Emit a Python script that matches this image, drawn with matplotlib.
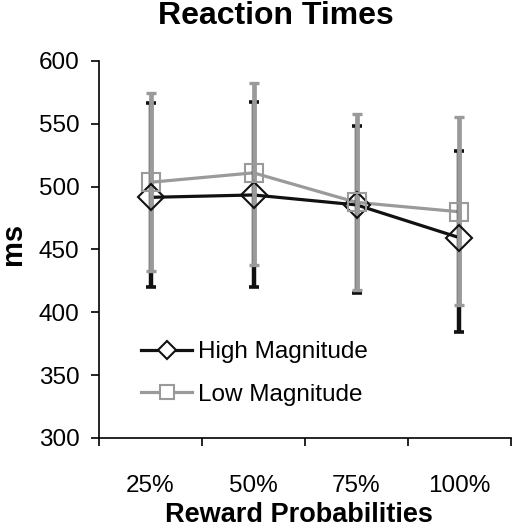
import matplotlib
matplotlib.use("Agg")
import matplotlib.pyplot as plt
import numpy as np

plt.rcParams['font.family'] = ['Liberation Sans', 'DejaVu Sans']

categories = ["25%", "50%", "75%", "100%"]
high_mean = [491.5, 493.4, 485.5, 459.4]
high_err_up = [75.3, 74.2, 62.8, 69.0]
high_err_down = [71.1, 73.0, 69.9, 74.8]
low_mean = [503.5, 511.0, 487.5, 480.0]
low_err_up = [70.8, 71.7, 70.3, 75.2]
low_err_down = [70.3, 73.3, 69.7, 74.2]
y_ticks = [300, 350, 400, 450, 500, 550, 600]

BLACK = "#111111"
GRAY = "#9a9a9a"

W, H = 521, 527
fig = plt.figure(figsize=(W / 100, H / 100), dpi=100)
ax = fig.add_axes([99 / W, 1 - 438 / H, (511 - 99) / W, (438 - 61) / H])

x = np.arange(len(categories))

# lines
ax.plot(x, high_mean, color=BLACK, lw=2.3, zorder=2, solid_capstyle='butt')
ax.plot(x, low_mean, color=GRAY, lw=2.3, zorder=2.5, solid_capstyle='butt')

# error bars
ax.errorbar(x, high_mean, yerr=[high_err_down, high_err_up], fmt='none',
            ecolor=BLACK, elinewidth=3.2, capsize=3.6, capthick=2.6, zorder=3)
ax.errorbar(x, low_mean, yerr=[low_err_down, low_err_up], fmt='none',
            ecolor=GRAY, elinewidth=3.4, capsize=3.8, capthick=2.4, zorder=4)

# markers
ax.plot(x, high_mean, linestyle='none', marker='D', markersize=13,
        markerfacecolor='none', markeredgecolor=BLACK, markeredgewidth=1.5, zorder=5)
ax.plot(x, low_mean, linestyle='none', marker='s', markersize=13,
        markerfacecolor='none', markeredgecolor=GRAY, markeredgewidth=1.5, zorder=5)

# legend handles
h1, = ax.plot([], [], color=BLACK, lw=2.3, marker='D', markersize=9,
              markerfacecolor='white', markeredgecolor=BLACK, markeredgewidth=1.5)
h2, = ax.plot([], [], color=GRAY, lw=2.3, marker='s', markersize=10,
              markerfacecolor='white', markeredgecolor=GRAY, markeredgewidth=1.5)
ax.legend([h1, h2], ["High Magnitude", "Low Magnitude"], loc='upper left',
          bbox_to_anchor=(141 / W, 1 - 341 / H), bbox_transform=fig.transFigure,
          frameon=False, fontsize=17.5, handlelength=2.1, handletextpad=0.25,
          labelspacing=0.85, borderpad=0, borderaxespad=0, numpoints=1)

ax.set_xlim(-0.5, len(categories) - 0.5)
ax.set_ylim(300, 600)
ax.set_yticks(y_ticks)
ax.set_yticklabels([str(v) for v in y_ticks], fontsize=17.5)

ax.set_xticks(np.arange(len(categories) + 1) - 0.5)
ax.set_xticklabels([])
ax.set_xticks(x, minor=True)
ax.set_xticklabels(categories, minor=True, fontsize=17.5)
ax.tick_params(axis='x', which='major', direction='out', length=6, width=1.2, color='black')
ax.tick_params(axis='x', which='minor', length=0, pad=27)
ax.tick_params(axis='y', direction='out', length=6, width=1.2, pad=8)

for s in ['top', 'right']:
    ax.spines[s].set_visible(False)
for s in ['left', 'bottom']:
    ax.spines[s].set_linewidth(1.2)
    ax.spines[s].set_color('black')

fig.text(276 / W, 1 - 16 / H, "Reaction Times", ha='center', va='center',
         fontsize=23, fontweight='bold')
fig.text(299 / W, 1 - 515 / H, "Reward Probabilities", ha='center', va='center',
         fontsize=19.5, fontweight='bold')
fig.text(13 / W, 1 - 244 / H, "ms", ha='center', va='center', rotation=90,
         fontsize=21, fontweight='bold')

fig.savefig("out.png", dpi=100)
